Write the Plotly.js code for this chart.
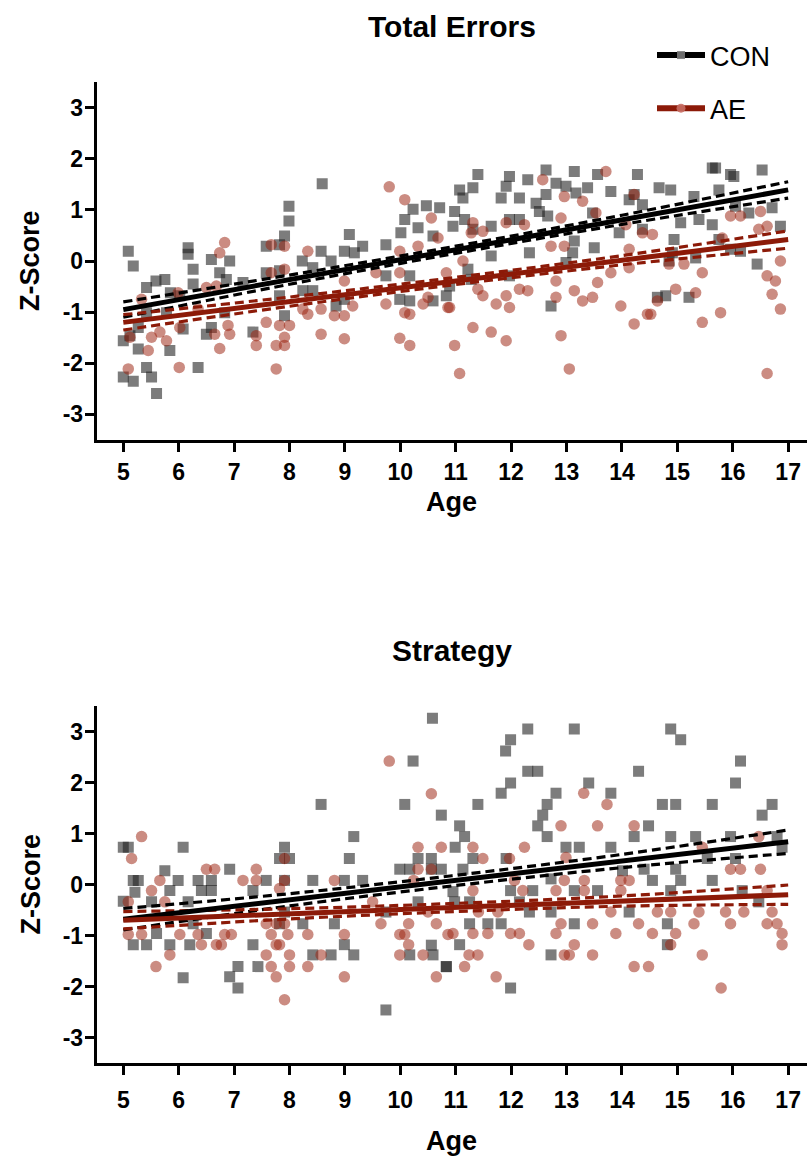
<!DOCTYPE html>
<html>
<head>
<meta charset="utf-8">
<script src="https://cdn.plot.ly/plotly-3.0.1.min.js"></script>
<style>html,body{margin:0;padding:0;background:#fff}#chart{width:807px;height:1163px}</style>
</head>
<body>
<div id="chart"></div>
<script>
// ---------- Total Errors: CON (squares) ----------
const teConAge = [5.09,5.18,5.42,5.59,5.75,6.17,6.17,6.26,6.59,6.92,6.74,6.26,6.02,5.85,5.78,5.42,5.27,5.12,5.00,5.27,5.84,6.08,6.50,6.59,6.83,6.35,5.42,5.00,5.18,5.51,5.60,7.34,7.58,7.82,7.91,7.99,7.99,8.59,8.23,8.42,8.57,8.75,8.99,9.08,9.17,9.32,9.74,10.01,10.08,10.23,10.32,10.47,10.71,10.59,10.83,10.59,10.17,9.99,9.74,10.17,8.84,8.99,8.24,8.42,7.91,7.82,7.82,7.58,7.16,6.86,
  11.07,11.31,11.40,11.13,10.98,11.16,10.95,11.31,11.64,11.82,11.97,11.91,12.15,12.30,11.97,12.15,12.45,12.63,12.63,12.51,12.66,12.81,12.99,13.14,13.17,13.38,13.56,13.47,13.80,13.95,13.14,13.50,13.11,12.99,12.33,11.97,11.64,11.22,11.28,10.89,12.72,14.13,14.22,14.28,14.37,14.37,14.67,14.88,15.06,14.94,14.91,14.85,14.64,14.79,15.21,15.30,15.39,15.63,15.63,15.69,15.75,15.96,16.02,16.05,15.75,15.96,16.14,16.29,16.53,16.71,16.86,16.44,15.33];
const teConZ = [0.19,-0.10,-0.52,-0.39,-0.36,0.26,0.13,-0.16,0.03,0.00,-0.23,-0.45,-0.68,-0.62,-1.01,-1.01,-1.30,-1.46,-1.56,-1.72,-1.75,-1.33,-1.43,-1.30,-1.01,-2.08,-2.08,-2.27,-2.35,-2.27,-2.59,-1.39,0.29,0.32,0.49,0.78,1.07,1.51,0.00,-0.13,0.19,0.00,0.19,0.52,0.16,0.29,0.32,0.55,0.81,1.01,0.65,1.08,1.04,0.49,-0.68,-0.78,-0.78,-0.75,-0.29,-0.29,-0.88,-0.75,-0.58,-0.58,-1.07,-0.68,-0.19,-0.23,-0.42,-0.36,
  1.39,1.43,1.69,1.23,0.97,0.81,0.68,0.62,0.68,1.23,1.65,1.46,1.23,1.59,0.81,0.81,1.13,1.78,1.30,0.97,0.88,1.52,1.46,1.75,1.33,1.43,1.69,0.94,1.36,0.55,0.39,0.26,0.16,-0.03,0.16,-0.29,0.10,-0.16,-0.36,-0.49,-0.88,1.20,1.30,1.69,1.10,0.62,1.43,1.39,0.75,0.42,0.16,0.00,-0.71,-0.68,-0.71,1.26,0.81,0.71,1.82,1.82,1.39,1.69,1.65,1.07,0.42,0.23,0.19,0.94,1.78,1.04,0.68,-0.06,0.06];

// ---------- Total Errors: AE (circles) ----------
const teAeAge = [5.09,5.12,5.33,5.45,5.51,5.66,5.78,5.99,6.01,6.02,6.35,6.50,6.68,6.74,6.83,6.65,6.74,6.89,6.92,7.40,7.40,7.58,7.67,7.67,7.91,7.91,7.76,7.76,7.91,7.91,7.82,8.00,8.33,8.24,8.33,8.57,8.57,8.81,8.99,8.99,8.99,9.14,9.56,9.74,9.80,10.08,9.99,9.99,10.08,10.17,9.99,10.17,10.32,10.41,10.50,10.56,10.68,10.83,10.86,
  11.07,10.98,11.31,11.64,11.91,11.73,11.91,11.97,12.15,12.30,11.49,11.40,10.89,11.13,11.31,11.28,11.49,11.91,12.24,12.57,12.96,13.29,13.71,12.90,12.72,12.96,12.81,12.81,13.14,13.29,13.47,13.56,13.80,12.90,13.05,13.98,14.13,14.22,14.46,14.52,14.64,14.97,15.33,15.45,15.45,15.78,14.55,14.37,14.07,14.22,15.96,16.14,16.50,16.62,16.47,16.86,16.62,16.77,16.71,16.86,16.62,15.81,14.85,15.12,14.13,13.53];
const teAeZ = [-2.11,-1.49,-0.75,-1.75,-1.49,-1.39,-1.56,-0.62,-2.08,-1.30,-0.94,-0.52,-0.49,0.16,0.36,-1.43,-1.71,-1.26,-1.43,-1.65,-1.46,-1.20,-0.23,0.32,0.29,-0.16,-1.65,-2.11,-1.49,-1.65,-1.26,-1.26,0.19,-0.94,-1.04,-0.94,-1.43,-1.07,-1.07,-1.52,-0.39,-0.88,-0.23,-0.84,1.45,1.20,-0.23,0.19,-1.01,-1.04,-1.51,-1.65,0.29,-0.84,-0.71,0.84,0.45,-0.23,-0.91,
  -2.20,-1.65,-1.30,-1.39,-1.56,-0.84,-0.68,-0.91,-0.55,-0.58,-0.68,-0.55,-0.91,0.00,0.75,0.55,0.58,0.75,0.71,1.59,1.26,1.17,1.75,0.84,0.29,0.29,-0.39,-0.71,-0.58,-0.78,-0.71,-0.42,-0.23,-1.46,-2.11,-0.88,-0.13,-1.23,-1.04,-1.04,-0.78,-0.55,-0.62,-0.23,-1.20,-1.01,0.52,0.55,0.71,1.30,0.88,0.88,0.97,0.68,0.62,0.00,-0.29,-0.39,-0.65,-0.94,-2.20,0.45,-0.06,-0.06,0.23,0.94];

// ---------- Strategy: CON (squares) ----------
const stConAge = [5.00,5.09,5.00,5.18,5.21,5.27,5.18,5.42,5.51,5.60,5.75,5.84,5.84,5.99,6.08,6.08,6.17,6.20,6.26,6.35,6.41,6.59,6.59,6.50,6.92,6.92,7.07,7.07,7.34,7.34,7.43,7.58,7.82,7.91,8.00,7.91,7.82,7.91,8.24,8.42,8.42,8.57,8.75,8.81,8.99,8.99,9.08,9.16,9.16,9.32,9.74,9.74,9.99,10.08,10.17,10.17,10.23,10.32,10.32,10.56,10.56,10.56,10.58,10.74,10.74,10.83,
  11.07,11.16,10.99,11.31,11.40,11.13,10.95,10.98,11.25,11.25,11.07,10.83,10.59,11.58,11.82,11.82,11.90,11.99,11.99,11.91,11.99,11.99,12.30,12.30,12.48,12.39,12.33,12.15,12.65,12.57,12.48,12.65,12.81,12.72,12.72,12.72,12.99,13.14,13.23,13.14,13.14,13.40,13.56,13.80,13.80,14.01,14.13,14.22,14.30,14.40,14.48,14.55,14.73,14.82,14.82,14.88,14.88,14.97,15.06,14.97,14.88,15.06,15.33,15.54,15.63,15.63,15.96,16.05,16.14,16.05,16.17,16.47,16.53,16.71,16.80,16.89];
const stConZ = [0.73,0.73,-0.33,0.08,-0.15,0.08,-1.18,-1.18,-0.34,-0.96,0.27,-0.12,-1.18,0.08,0.73,-1.83,-0.34,-1.18,-0.77,0.08,-0.12,0.08,-0.12,-0.96,0.30,-1.81,-1.61,-2.03,-0.12,-1.18,-1.61,0.08,0.51,0.73,0.51,0.08,-0.77,-0.54,-0.77,0.08,-1.38,1.57,-1.38,-0.77,0.08,-1.18,0.51,0.94,-1.38,0.08,-2.46,-0.54,0.30,1.57,0.30,-1.38,2.42,0.51,-0.34,0.51,0.30,-1.19,3.26,1.36,0.30,-1.61,
  1.15,0.94,0.73,0.51,1.57,0.30,-0.14,-0.34,-0.34,-0.77,-1.18,-1.61,-1.38,-0.77,-0.77,1.79,2.62,2.84,1.99,0.51,-0.12,-2.03,3.05,2.22,2.22,-0.12,-0.54,-0.34,1.57,1.36,1.15,0.94,1.79,0.11,-0.54,-1.38,0.73,3.05,0.73,-0.12,-0.77,1.99,-0.12,1.79,0.73,0.27,-0.54,0.94,2.22,0.30,1.15,0.08,1.57,-0.77,-1.18,3.05,0.94,1.57,2.84,0.30,-0.12,0.08,0.94,0.51,1.57,0.08,0.94,1.99,2.42,0.51,-0.12,-0.34,1.36,1.57,0.94,0.73];

// ---------- Strategy: AE (circles) ----------
const stAeAge = [5.09,5.09,5.15,5.33,5.33,5.51,5.59,5.66,5.75,5.84,6.02,6.35,6.41,6.50,6.65,6.68,6.77,6.83,6.95,7.16,7.40,7.40,7.58,7.67,7.76,7.58,7.67,7.76,7.82,7.76,7.82,7.91,7.91,7.91,7.91,8.00,8.00,7.97,8.33,8.33,8.57,8.81,8.99,8.99,9.65,9.80,9.99,9.99,10.08,10.15,10.15,10.24,10.32,10.32,10.41,10.56,10.56,10.65,10.65,10.74,10.86,10.50,9.50,
  10.95,11.16,11.24,11.40,11.31,11.31,11.49,11.31,11.58,11.41,11.73,11.76,11.97,11.99,12.15,12.24,12.06,12.21,12.32,12.81,12.81,12.90,12.96,12.99,12.90,12.96,13.05,13.14,13.31,13.32,13.32,13.47,13.47,13.56,13.73,13.80,13.89,13.98,13.98,14.13,14.22,14.22,14.30,14.48,14.55,14.64,14.88,14.97,14.88,15.30,15.45,15.45,15.39,15.79,15.87,15.96,15.96,16.14,16.20,16.47,16.50,16.62,16.71,16.80,16.89,16.89,16.62];
const stAeZ = [-0.34,-0.98,0.51,0.94,-0.98,-0.12,-1.61,0.08,-0.34,-1.38,-0.98,-0.98,-1.18,0.30,0.30,-1.18,-1.18,-0.98,-0.98,0.08,0.30,0.08,-0.77,-0.98,-0.77,-1.38,-1.61,-1.18,-1.18,-1.81,-0.08,0.08,0.51,-0.77,-2.26,-1.38,-1.61,-0.98,-0.98,-1.61,-1.38,0.08,-0.98,-1.81,-0.77,2.42,-0.98,-1.38,-0.98,-0.77,-1.18,0.08,0.73,0.30,-1.38,1.78,0.30,-0.77,-1.81,0.73,-0.98,-0.54,-0.34,
  -0.96,-1.61,-1.38,-1.38,0.73,-0.12,0.51,-0.96,-0.96,-0.54,-1.81,-0.54,0.51,-0.96,-0.96,0.73,0.08,-0.12,-1.18,-0.96,-0.12,1.15,0.08,0.53,-0.77,-1.38,-1.38,-1.18,1.79,0.08,-0.12,-0.77,-1.38,1.15,1.57,-0.54,-0.96,0.08,-0.12,0.08,1.15,-1.61,-0.77,-1.61,-0.96,-0.54,-0.54,-0.96,-1.18,-0.77,0.73,-1.38,-0.54,-2.03,-0.54,-0.77,0.30,0.30,-0.54,0.94,0.30,-0.77,-0.54,-0.77,-0.96,-1.18,-0.12];

// ---------- Regression fits and 95% CI ----------
const fitAge = [5, 17];
const teConFit = [-0.95, 1.39];
const teAeFit = [-1.20, 0.42];
const stConFit = [-0.68, 0.84];
const stAeFit = [-0.70, -0.20];
const ciAge = [5, 8, 11, 14, 17];
const teConUp = [-0.80, -0.275, 0.29, 0.895, 1.55];
const teConLo = [-1.10, -0.455, 0.15, 0.715, 1.23];
const teAeUp = [-1.05, -0.705, -0.32, 0.105, 0.59];
const teAeLo = [-1.35, -0.885, -0.46, -0.075, 0.25];
const stConUp = [-0.47, -0.18, 0.18, 0.59, 1.07];
const stConLo = [-0.89, -0.42, -0.02, 0.33, 0.61];
const stAeUp = [-0.53, -0.475, -0.37, -0.225, -0.01];
const stAeLo = [-0.87, -0.675, -0.53, -0.425, -0.39];

const xTicks = [5,6,7,8,9,10,11,12,13,14,15,16,17];
const yTicks = [-3,-2,-1,0,1,2,3];
const groupNames = ['CON', 'AE'];
const panelTitles = ['Total Errors', 'Strategy'];

const BLACK = '#000000';
const RED = '#8c1a08';
const SQ = 'rgba(30,30,30,0.58)';
const CI_RED = 'rgba(155,35,15,0.52)';

function pts(x, y, xa, ya, sym, col) {
  return {x: x, y: y, xaxis: xa, yaxis: ya, type: 'scatter', mode: 'markers', showlegend: false, hoverinfo: 'skip',
    marker: {symbol: sym, size: sym === 'square' ? 11 : 11.5, color: col, line: {width: 0}}};
}
function ln(x, y, xa, ya, col, w, dash) {
  return {x: x, y: y, xaxis: xa, yaxis: ya, type: 'scatter', mode: 'lines', showlegend: false, hoverinfo: 'skip',
    line: {color: col, width: w, dash: dash || 'solid', shape: 'spline'}};
}
const DASH = '9px,5px';

const traces = [
  pts(teConAge, teConZ, 'x', 'y', 'square', SQ),
  pts(teAeAge, teAeZ, 'x', 'y', 'circle', CI_RED),
  pts(stConAge, stConZ, 'x2', 'y2', 'square', SQ),
  pts(stAeAge, stAeZ, 'x2', 'y2', 'circle', CI_RED),
  ln(ciAge, teConUp, 'x', 'y', BLACK, 3.2, DASH),
  ln(ciAge, teConLo, 'x', 'y', BLACK, 3.2, DASH),
  ln(ciAge, teAeUp, 'x', 'y', RED, 3.2, DASH),
  ln(ciAge, teAeLo, 'x', 'y', RED, 3.2, DASH),
  ln(fitAge, teConFit, 'x', 'y', BLACK, 5),
  ln(fitAge, teAeFit, 'x', 'y', RED, 5),
  ln(ciAge, stConUp, 'x2', 'y2', BLACK, 3.2, DASH),
  ln(ciAge, stConLo, 'x2', 'y2', BLACK, 3.2, DASH),
  ln(ciAge, stAeUp, 'x2', 'y2', RED, 3.2, DASH),
  ln(ciAge, stAeLo, 'x2', 'y2', RED, 3.2, DASH),
  ln(fitAge, stConFit, 'x2', 'y2', BLACK, 5),
  ln(fitAge, stAeFit, 'x2', 'y2', RED, 5),
  // legend entries
  {x: [null], y: [null], type: 'scatter', mode: 'lines+markers', name: groupNames[0], legendgroup: 'g1',
   line: {color: BLACK, width: 6}, marker: {symbol: 'square', size: 8, color: 'rgba(120,120,120,0.9)'}},
  {x: [null], y: [null], type: 'scatter', mode: 'lines+markers', name: groupNames[1], legendgroup: 'g2',
   line: {color: RED, width: 6}, marker: {symbol: 'circle', size: 9, color: 'rgba(200,110,100,0.9)'}}
];

const FONT = 'Liberation Sans, Arial, Helvetica, sans-serif';
function xax(dom, anchor, standoff) {
  return {domain: dom, anchor: anchor, range: [4.52, 17.34], tickvals: xTicks, ticktext: xTicks.map(String),
    showline: true, linewidth: 3, linecolor: BLACK, ticks: 'outside', ticklen: 9, tickwidth: 3, tickcolor: BLACK,
    showgrid: false, zeroline: false, ticklabelstandoff: standoff,
    tickfont: {family: FONT, size: 23, color: BLACK, weight: 'bold'}};
}
function yax(dom, anchor) {
  return {domain: dom, anchor: anchor, range: [-3.5, 3.5], tickvals: yTicks, ticktext: yTicks.map(String),
    showline: true, linewidth: 3, linecolor: BLACK, ticks: 'outside', ticklen: 9, tickwidth: 3, tickcolor: BLACK,
    showgrid: false, zeroline: false, ticklabelstandoff: -3,
    tickfont: {family: FONT, size: 23, color: BLACK, weight: 'bold'}};
}
const xd = [96.7/807, 1];
const H = 1163;
const topDom = [1 - 440/H, 1 - 82/H];
const botDom = [1 - 1063/H, 1 - 706/H];
const cx = (96.7 + 807) / 2 / 807;

function ann(text, x, y, size, angle) {
  return {text: text, x: x, y: y, xref: 'paper', yref: 'paper', showarrow: false, xanchor: 'center', yanchor: 'middle',
    textangle: angle || 0, borderpad: 0, font: {family: FONT, size: size, color: BLACK, weight: 'bold'}};
}

const layout = {
  width: 807, height: 1163,
  margin: {l: 0, r: 0, t: 0, b: 0},
  paper_bgcolor: '#ffffff', plot_bgcolor: '#ffffff',
  font: {family: FONT, color: BLACK},
  xaxis: xax(xd, 'y', 0), yaxis: yax(topDom, 'x'),
  xaxis2: xax(xd, 'y2', 5), yaxis2: yax(botDom, 'x2'),
  showlegend: true,
  legend: {x: 652/807, y: 1 - 31/H, xanchor: 'left', yanchor: 'top', bgcolor: 'rgba(0,0,0,0)',
    font: {family: FONT, size: 27, color: BLACK}, tracegroupgap: 15, traceorder: 'grouped', itemwidth: 48},
  annotations: [
    ann(panelTitles[0], cx, 1 - 27/H, 30),
    ann(panelTitles[1], cx, 1 - 650/H, 30),
    ann('Age', cx, 1 - 502/H, 27),
    ann('Age', cx, 1 - 1141/H, 27),
    ann('Z-Score', 30/807, 1 - 261/H, 27, -90),
    ann('Z-Score', 30/807, 1 - 884.5/H, 27, -90)
  ]
};

Plotly.newPlot('chart', traces, layout, {staticPlot: true, displayModeBar: false});
</script>
</body>
</html>
